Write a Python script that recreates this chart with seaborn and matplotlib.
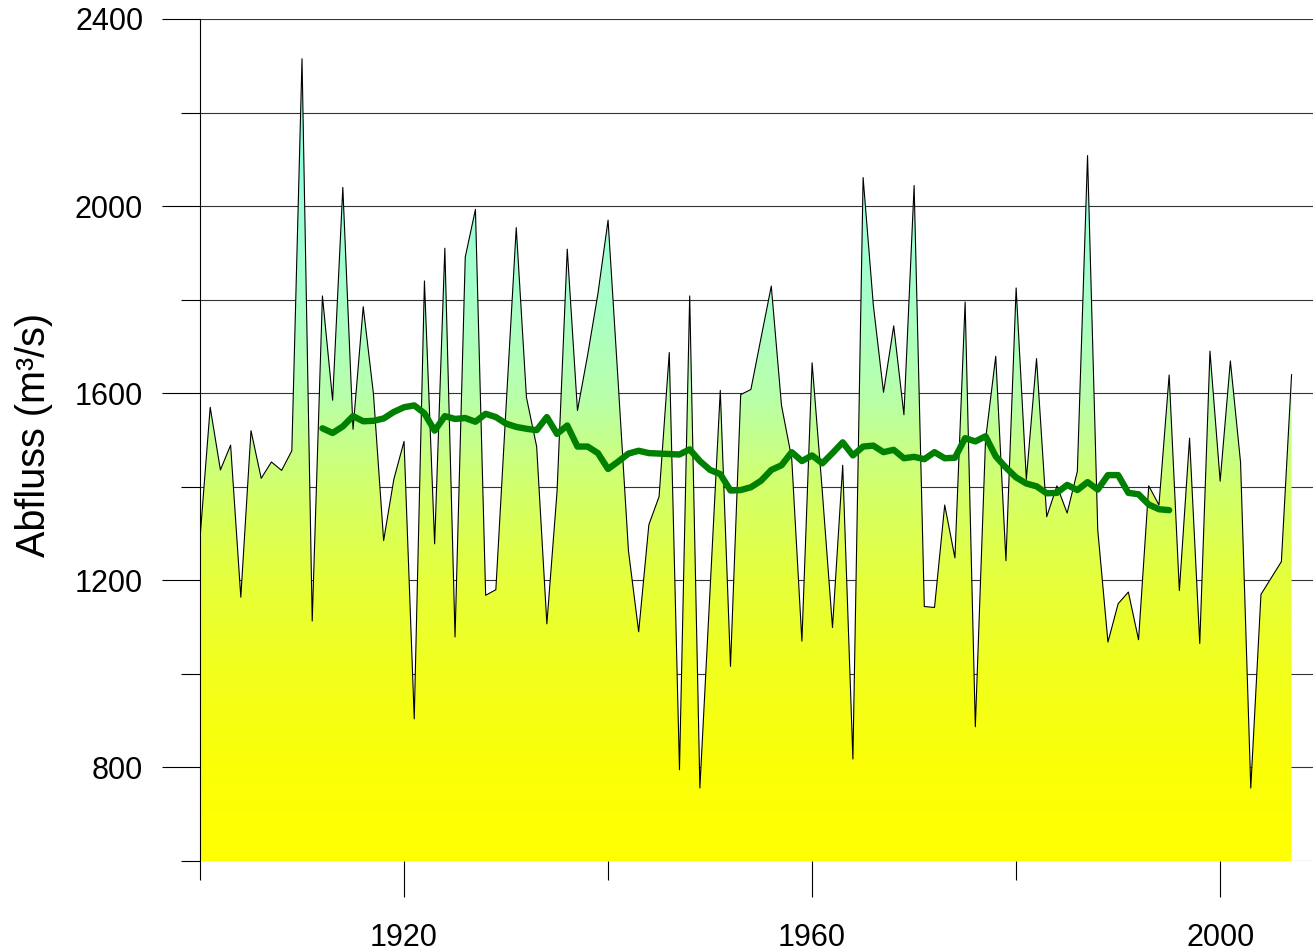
import numpy as np
import pandas as pd
import matplotlib
matplotlib.use("Agg")
import matplotlib.pyplot as plt
import seaborn as sns
from matplotlib.colors import LinearSegmentedColormap
from matplotlib.ticker import FixedLocator

# ---- data ----
years = list(range(1900, 2008))
flow = [1290, 1570, 1436, 1489, 1164, 1520, 1418, 1453, 1435, 1477,
        2315, 1113, 1808, 1585, 2040, 1523, 1785, 1599, 1285, 1416,
        1497, 904, 1840, 1278, 1910, 1079, 1891, 1993, 1168, 1180,
        1570, 1954, 1591, 1486, 1107, 1390, 1908, 1563, 1682, 1812,
        1970, 1620, 1263, 1090, 1319, 1379, 1687, 795, 1808, 756,
        1180, 1606, 1016, 1597, 1608, 1719, 1829, 1574, 1461, 1070,
        1665, 1390, 1099, 1446, 818, 2061, 1789, 1602, 1744, 1554,
        2044, 1144, 1142, 1361, 1248, 1795, 887, 1500, 1679, 1242,
        1825, 1416, 1674, 1336, 1402, 1344, 1433, 2108, 1308, 1068,
        1150, 1175, 1073, 1402, 1361, 1639, 1178, 1504, 1065, 1690,
        1412, 1669, 1452, 756, 1170, 1205, 1240, 1640]

ma_years = list(range(1912, 1996))
ma_flow = [1525, 1515, 1529, 1551, 1540, 1541, 1546, 1560, 1570, 1574,
           1557, 1520, 1551, 1545, 1547, 1539, 1556, 1549, 1535, 1528,
           1524, 1521, 1549, 1513, 1531, 1486, 1486, 1472, 1438, 1454,
           1471, 1477, 1472, 1471, 1470, 1469, 1480, 1455, 1436, 1427,
           1392, 1393, 1399, 1413, 1436, 1446, 1474, 1455, 1467, 1450,
           1472, 1495, 1467, 1486, 1488, 1474, 1479, 1461, 1464, 1459,
           1474, 1461, 1462, 1504, 1497, 1508, 1465, 1441, 1420, 1407,
           1401, 1386, 1387, 1404, 1393, 1410, 1394, 1425, 1425, 1387,
           1384, 1362, 1352, 1350]

y_major = [800, 1200, 1600, 2000, 2400]
y_minor = [600, 1000, 1400, 1800, 2200]
x_major = [1920, 1960, 2000]
x_minor = [1900, 1940, 1980]
y_label = "Abfluss (m³/s)"

df = pd.DataFrame({"Jahr": years, "Abfluss": flow})
df_ma = pd.DataFrame({"Jahr": ma_years, "Abfluss": ma_flow})

# ---- style ----
sns.set_style("white")
plt.rcParams['font.family'] = ['Liberation Sans', 'DejaVu Sans']
plt.rcParams['text.color'] = 'black'
plt.rcParams['axes.labelcolor'] = 'black'
plt.rcParams['xtick.color'] = 'black'
plt.rcParams['ytick.color'] = 'black'

W, H = 1313, 951
fig = plt.figure(figsize=(W / 100, H / 100), dpi=100)
ax = fig.add_axes([200 / W, (H - 861) / H, 1 - 200 / W, (861 - 19) / H])

# gradient fill under the curve
ymin, ymax = 600, 2400
xmin, xmax = 1900, 2009.1
stops = [(0.0, "#ffff00"), (200 / 1800, "#fbff08"), (400 / 1800, "#f2ff1c"),
         (600 / 1800, "#e6ff3c"), (800 / 1800, "#d2ff6c"), (1000 / 1800, "#b8ffac"),
         (1200 / 1800, "#a8ffc8"), (1400 / 1800, "#9cffd8"), (1700 / 1800, "#80ffe8"),
         (1.0, "#78ffee")]
cmap = LinearSegmentedColormap.from_list("flowgrad", stops)

poly = ax.fill_between(df["Jahr"], df["Abfluss"], ymin, facecolor="none",
                       edgecolor="none", zorder=2)
grad = np.linspace(0, 1, 512).reshape(-1, 1)
im = ax.imshow(grad, extent=[years[0], years[-1], ymin, ymax], origin="lower",
               aspect="auto", cmap=cmap, zorder=2, interpolation="bilinear")
im.set_clip_path(poly.get_paths()[0], transform=ax.transData)

sns.lineplot(data=df, x="Jahr", y="Abfluss", color="black", linewidth=0.8,
             ax=ax, zorder=3)
sns.lineplot(data=df_ma, x="Jahr", y="Abfluss", color="#008000", linewidth=4.6,
             ax=ax, zorder=4, solid_capstyle="round", solid_joinstyle="round")

ax.set_xlim(xmin, xmax)
ax.set_ylim(ymin, ymax)

# grid and ticks
ax.yaxis.set_major_locator(FixedLocator(y_major))
ax.yaxis.set_minor_locator(FixedLocator(y_minor))
ax.xaxis.set_major_locator(FixedLocator(x_major))
ax.xaxis.set_minor_locator(FixedLocator(x_minor))
ax.set_yticklabels([str(v) for v in y_major])
ax.set_xticklabels([str(v) for v in x_major])
ax.set_axisbelow(True)
ax.yaxis.grid(True, which="both", color="#333333", linewidth=0.8, zorder=0)
ax.xaxis.grid(False)

ax.tick_params(axis="y", which="major", direction="out", length=27.4, width=0.8,
               pad=13.5, labelsize=22, color="black", labelcolor="black", left=True)
ax.tick_params(axis="y", which="minor", direction="out", length=13.7, width=0.8,
               color="black", left=True)
ax.tick_params(axis="x", which="major", direction="out", length=26, width=0.8,
               pad=19, labelsize=22, color="black", labelcolor="black", bottom=True)
ax.tick_params(axis="x", which="minor", direction="out", length=13.7, width=0.8,
               color="black", bottom=True)

for s in ["top", "right", "bottom"]:
    ax.spines[s].set_visible(False)
ax.spines["left"].set_color("black")
ax.spines["left"].set_linewidth(0.8)

ax.set_xlabel("")
ax.set_ylabel(y_label, fontsize=28.5, color="black")
ax.yaxis.set_label_coords(-0.132, 0.506)

fig.savefig("out.png", dpi=100)
